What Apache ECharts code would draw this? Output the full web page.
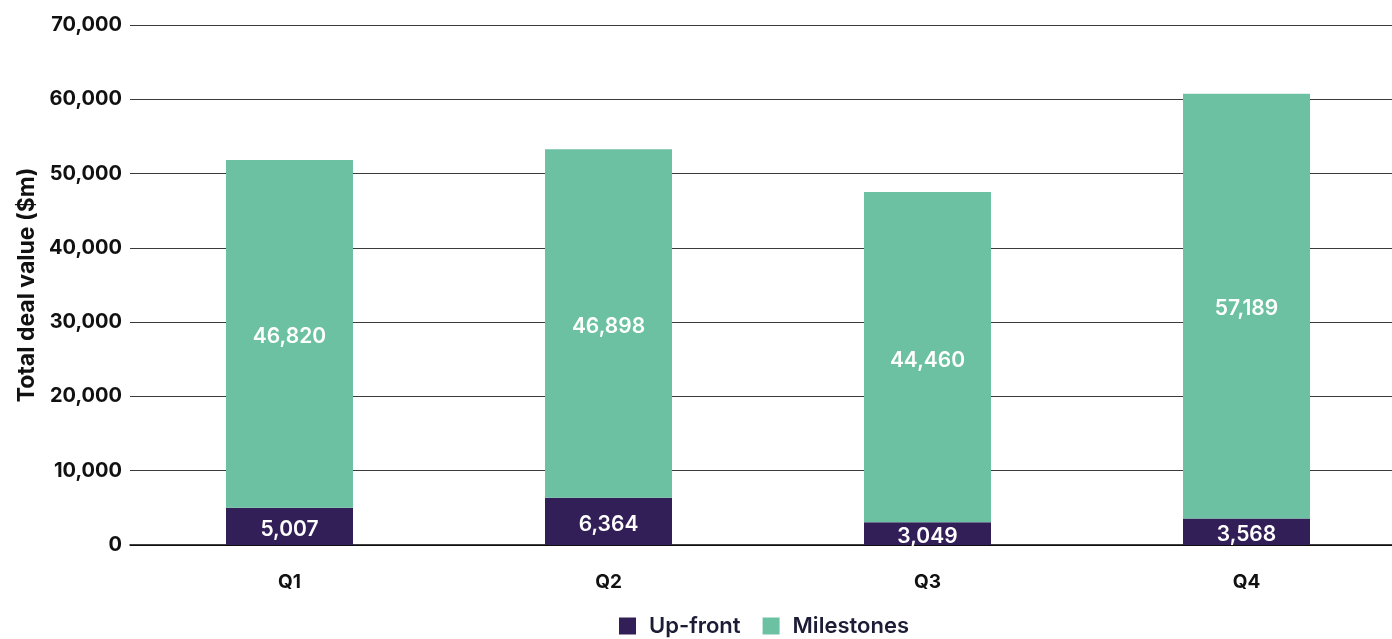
<!DOCTYPE html>
<html>
<head>
<meta charset="utf-8">
<script src="https://cdn.jsdelivr.net/npm/echarts@6/dist/echarts.min.js"></script>
<style>
  html, body { margin: 0; padding: 0; background: #fff; }
  #chart { width: 1392px; height: 639px; }
</style>
</head>
<body>
<div id="chart"></div>
<script>
const quarters = ['Q1', 'Q2', 'Q3', 'Q4'];
const upFront = [5007, 6364, 3049, 3568];
const milestones = [46820, 46898, 44460, 57189];

const FONT = 'Inter, "Noto Sans", sans-serif';
const INK = '#111111';

const chart = echarts.init(document.getElementById('chart'));

const fmt = v => v.toLocaleString('en-US');

const labelStyle = {
  show: true,
  position: 'inside',
  offset: [0, 3],
  color: '#ffffff',
  fontFamily: FONT,
  fontSize: 21,
  fontWeight: 600,
  formatter: p => fmt(p.value)
};

chart.setOption({
  animation: false,
  grid: { left: 130, top: 25, width: 1276, height: 520, containLabel: false, outerBoundsMode: 'none' },
  legend: {
    top: 610,
    left: 614,
    itemWidth: 17,
    itemHeight: 17,
    itemGap: 22,
    icon: 'rect',
    textStyle: { fontFamily: FONT, fontSize: 22, fontWeight: 600, color: '#1c1c36', padding: [0, 0, 0, 8] },
    data: ['Up-front', 'Milestones']
  },
  xAxis: {
    type: 'category',
    data: quarters,
    axisLine: { lineStyle: { color: '#000', width: 1.5 } },
    axisTick: { show: false },
    axisLabel: { fontFamily: FONT, fontSize: 19, fontWeight: 700, color: INK, margin: 28 }
  },
  yAxis: {
    type: 'value',
    min: 0,
    max: 70000,
    interval: 10000,
    name: 'Total deal value ($m)',
    nameLocation: 'middle',
    nameGap: 88,
    nameTextStyle: { fontFamily: FONT, fontSize: 23, fontWeight: 700, color: INK },
    axisLine: { show: false },
    axisTick: { show: false },
    axisLabel: { fontFamily: FONT, fontSize: 20, fontWeight: 700, color: INK, margin: 8, formatter: v => fmt(v) },
    splitLine: { lineStyle: { color: '#3a3a3a', width: 1.2 } }
  },
  series: [
    {
      name: 'Up-front',
      type: 'bar',
      stack: 'total',
      data: upFront,
      barWidth: 127,
      itemStyle: { color: '#331f58' },
      label: labelStyle
    },
    {
      name: 'Milestones',
      type: 'bar',
      stack: 'total',
      data: milestones,
      barWidth: 127,
      itemStyle: { color: '#6cc1a3' },
      label: labelStyle
    }
  ]
});
</script>
</body>
</html>
